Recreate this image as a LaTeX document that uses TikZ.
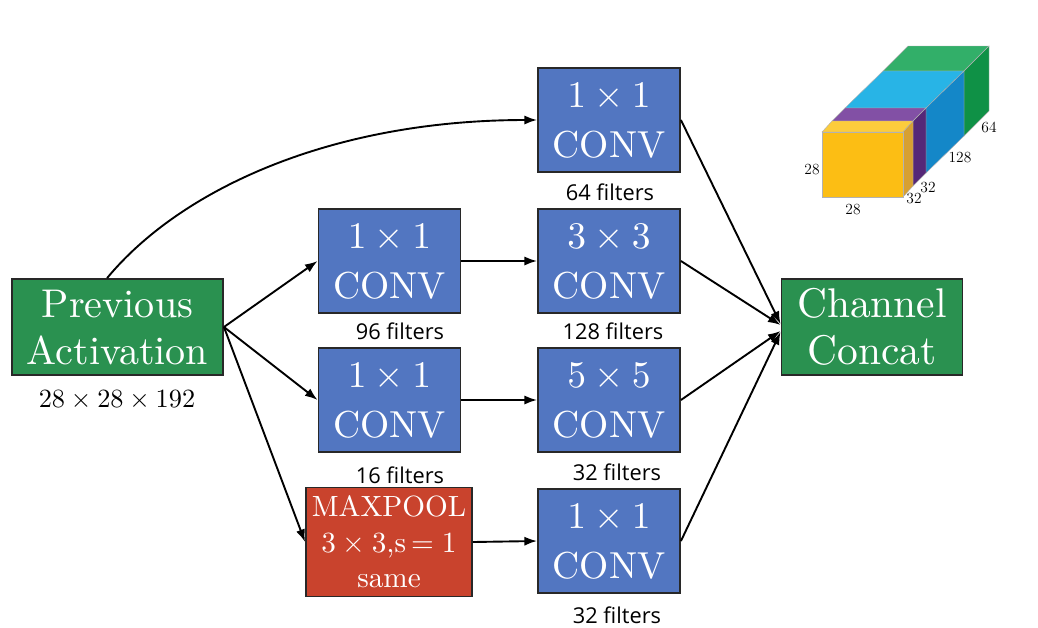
\documentclass[tikz,border=0pt]{standalone}
\usepackage{graphicx}
\usepackage{fontspec}
\newfontfamily\labfont{Open Sans}
\usetikzlibrary{arrows.meta,calc}
\definecolor{actgreen}{RGB}{42,145,80}
\definecolor{convblue}{RGB}{82,118,193}
\definecolor{poolred}{RGB}{201,67,45}
\definecolor{edgegray}{RGB}{40,40,40}
\definecolor{ytop}{RGB}{252,204,60}
\definecolor{yfront}{RGB}{252,190,20}
\definecolor{yside}{RGB}{215,160,50}
\definecolor{ptop}{RGB}{130,80,165}
\definecolor{pside}{RGB}{85,40,120}
\definecolor{btop}{RGB}{40,180,230}
\definecolor{bside}{RGB}{20,135,200}
\definecolor{gtop}{RGB}{50,175,105}
\definecolor{gside}{RGB}{15,145,70}
\newcommand\bigtxt[4]{\raisebox{#4}[\height][\depth]{\scalebox{#1}{\fontsize{10}{#2}\selectfont\begin{tabular}{@{}c@{}}#3\end{tabular}}}}
\begin{document}
\begin{tikzpicture}[x=0.025cm,y=-0.025cm,
  box/.style={draw=edgegray,line width=1.3pt,text=white,align=center,inner sep=0pt},
  actbox/.style={box,fill=actgreen,minimum width=5.275cm,minimum height=2.4cm},
  convbox/.style={box,fill=convblue,minimum width=3.55cm,minimum height=2.6cm},
  poolbox/.style={box,fill=poolred,minimum width=4.15cm,minimum height=2.725cm},
  filt/.style={font=\labfont\fontsize{15.5}{18}\selectfont,text=black,inner sep=0pt},
  dimlab/.style={font=\fontsize{11}{13}\selectfont,inner sep=0pt},
  arr/.style={-{Latex[length=9pt,width=6.5pt]},line width=1.35pt,black},
  face/.style={draw=gray!60,line width=0.3pt}]
\useasboundingbox (0,0) rectangle (1038,627);

% nodes
\node[actbox] (prev) at (117.5,327) {\bigtxt{2.85}{11.7}{Previous\\Activation}{-3.5pt}};
\node[inner sep=0pt] (prevdim) at (117,400) {\scalebox{1.87}{$28\times28\times192$}};

\node[convbox] (c1) at (609,120) {\bigtxt{2.67}{13.3}{$1\times1$\\CONV}{-1.5pt}};
\node[filt] (f1) at (610,192) {64 filters};

\node[convbox] (c2a) at (389.5,261) {\bigtxt{2.67}{13.3}{$1\times1$\\CONV}{-1.5pt}};
\node[filt] (f2a) at (400,331) {96 filters};
\node[convbox] (c2b) at (609,261) {\bigtxt{2.67}{13.3}{$3\times3$\\CONV}{-1.5pt}};
\node[filt] (f2b) at (613,331) {128 filters};

\node[convbox] (c3a) at (389.5,400) {\bigtxt{2.67}{13.3}{$1\times1$\\CONV}{-1.5pt}};
\node[filt] (f3a) at (400,475) {16 filters};
\node[convbox] (c3b) at (609,400) {\bigtxt{2.67}{13.3}{$5\times5$\\CONV}{-1.5pt}};
\node[filt] (f3b) at (617,472) {32 filters};

\node[poolbox] (pool) at (389,542) {\bigtxt{2.08}{12.3}{MAXPOOL\\$3\times3$,s$\,=1$\\same}{-2pt}};
\node[convbox] (c4) at (609,541) {\bigtxt{2.67}{13.3}{$1\times1$\\CONV}{-1.5pt}};
\node[filt] (f4) at (617,615) {32 filters};

\node[actbox,minimum width=4.525cm] (cc) at (872,327) {\bigtxt{2.95}{11.3}{Channel\\Concat}{-3.5pt}};

% connectors
\draw[arr] (prev.102) .. controls (180,190) and (330,120) .. (c1.west);
\draw[arr] (prev.east) -- (c2a.west);
\draw[arr] (prev.east) -- (c3a.west);
\draw[arr] (prev.east) -- (pool.west);
\draw[arr] (c2a.east) -- (c2b.west);
\draw[arr] (c3a.east) -- (c3b.west);
\draw[arr] (pool.east) -- (c4.west);
\draw[arr] (c1.east) -- ($(cc.west)+(0,-3)$);
\draw[arr] (c2b.east) -- ($(cc.west)+(0,-2)$);
\draw[arr] (c3b.east) -- ($(cc.west)+(0,4)$);
\draw[arr] (c4.east) -- ($(cc.west)+(0,5)$);

% output volume (cube)
\fill[gtop,face] (883,71) -- (908,46) -- (989,46) -- (964,71) -- cycle;
\fill[gside,face] (964,71) -- (989,46) -- (989,111) -- (964,136) -- cycle;
\fill[btop,face] (845,108) -- (883,71) -- (964,71) -- (926,108) -- cycle;
\fill[bside,face] (926,108) -- (964,71) -- (964,136) -- (926,173) -- cycle;
\fill[ptop,face] (832,121) -- (845,108) -- (926,108) -- (913,121) -- cycle;
\fill[pside,face] (913,121) -- (926,108) -- (926,173) -- (913,186) -- cycle;
\fill[ytop,face] (822,132) -- (832,121) -- (913,121) -- (903,132) -- cycle;
\fill[yside,face] (903,132) -- (913,121) -- (913,186) -- (903,197) -- cycle;
\fill[yfront,face] (822,132) rectangle (903,197);

\node[dimlab] (d1) at (812,170) {28};
\node[dimlab] (d2) at (853,210) {28};
\node[dimlab] (d3) at (914,199) {32};
\node[dimlab] (d4) at (928,188) {32};
\node[dimlab] (d5) at (960,158) {128};
\node[dimlab] (d6) at (989,127) {64};
\end{tikzpicture}
\end{document}
